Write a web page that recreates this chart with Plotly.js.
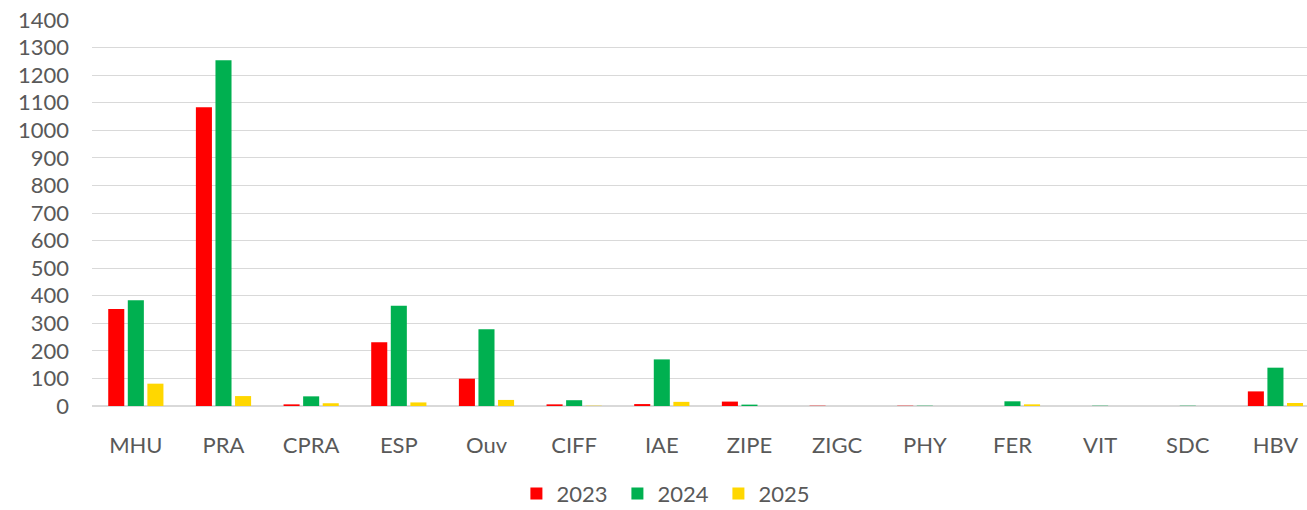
<!DOCTYPE html>
<html>
<head>
<meta charset="utf-8">
<script src="https://cdn.plot.ly/plotly-3.0.1.min.js"></script>
<style>
body { margin: 0; background: #fff; }
#chart { width: 1307px; height: 510px; }
</style>
</head>
<body>
<div id="chart"></div>
<script>
const categories = ['MHU', 'PRA', 'CPRA', 'ESP', 'Ouv', 'CIFF', 'IAE', 'ZIPE', 'ZIGC', 'PHY', 'FER', 'VIT', 'SDC', 'HBV'];
const values2023 = [352, 1084, 6, 231, 99, 6, 7, 16, 1, 1, 0, 0, 0, 53];
const values2024 = [384, 1254, 35, 364, 278, 21, 169, 5, 0, 1, 17, 1, 1, 139];
const values2025 = [81, 36, 10, 13, 22, 1, 15, 0, 0, 0, 6, 0, 0, 11];
const seriesNames = ['2023', '2024', '2025'];
const seriesColors = ['#ff0000', '#00b050', '#ffd700'];

function makeTrace(name, values, color) {
	return {
		type: 'bar',
		name: name,
		x: categories,
		y: values,
		marker: { color: color, line: { width: 0 } },
		hoverinfo: 'x+y+name'
	};
}

function createChart() {
	let allValues = [values2023, values2024, values2025];
	let data = [];
	for (let i = 0; i < seriesNames.length; i++) {
		data.push(makeTrace(seriesNames[i], allValues[i], seriesColors[i]));
	}

	let font = { family: 'Lato, "Open Sans", sans-serif', size: 22, color: '#595959' };

	let layout = {
		width: 1307,
		height: 510,
		margin: { l: 92, r: 0, t: 20, b: 104 },
		paper_bgcolor: '#ffffff',
		plot_bgcolor: '#ffffff',
		font: font,
		barmode: 'group',
		bargap: 0.33,
		bargroupgap: 0.18,
		showlegend: true,
		legend: {
			orientation: 'h',
			x: 0.474,
			xanchor: 'center',
			yref: 'container',
			y: 0.032,
			yanchor: 'middle',
			entrywidth: 56,
			font: font,
			traceorder: 'normal'
		},
		xaxis: {
			type: 'category',
			range: [-0.5, 13.36],
			showgrid: false,
			showline: false,
			zeroline: false,
			ticks: '',
			ticklabelstandoff: 24,
			tickfont: font
		},
		yaxis: {
			range: [0, 1400],
			dtick: 100,
			tick0: 0,
			showgrid: true,
			gridcolor: '#d9d9d9',
			gridwidth: 1,
			zeroline: true,
			zerolinecolor: '#d9d9d9',
			zerolinewidth: 1.5,
			showline: false,
			ticks: '',
			ticklabelstandoff: 22,
			tickfont: font
		}
	};

	Plotly.newPlot('chart', data, layout, { displayModeBar: false, staticPlot: true });
}

createChart();
</script>
</body>
</html>
